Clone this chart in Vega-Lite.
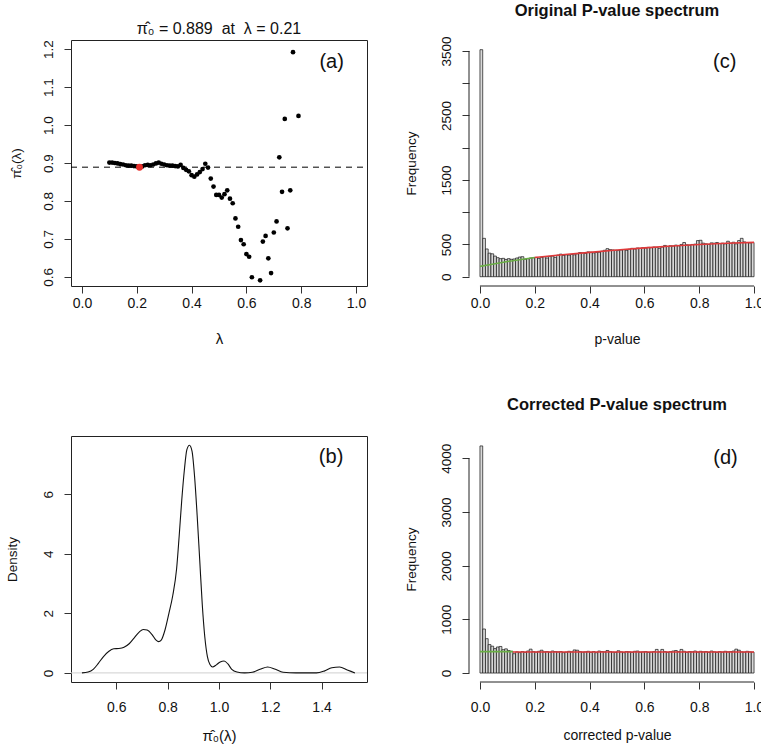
{
  "$schema": "https://vega.github.io/schema/vega-lite/v6.json",
  "padding": {"left": 4, "top": 3, "right": 0, "bottom": 0},
  "columns": 2,
  "spacing": {"row": 150, "column": 102},
  "bounds": "flush",
  "datasets": {
    "pi0": [
      {"lambda":0.10,"pi0":0.901},{"lambda":0.11,"pi0":0.901},{"lambda":0.12,"pi0":0.900},{"lambda":0.13,"pi0":0.899},{"lambda":0.14,"pi0":0.897},
      {"lambda":0.15,"pi0":0.896},{"lambda":0.16,"pi0":0.894},{"lambda":0.17,"pi0":0.893},{"lambda":0.18,"pi0":0.893},{"lambda":0.19,"pi0":0.892},
      {"lambda":0.20,"pi0":0.891},{"lambda":0.21,"pi0":0.889},{"lambda":0.22,"pi0":0.891},{"lambda":0.23,"pi0":0.894},{"lambda":0.24,"pi0":0.895},
      {"lambda":0.25,"pi0":0.894},{"lambda":0.26,"pi0":0.896},{"lambda":0.27,"pi0":0.899},{"lambda":0.28,"pi0":0.901},{"lambda":0.29,"pi0":0.898},
      {"lambda":0.30,"pi0":0.896},{"lambda":0.31,"pi0":0.894},{"lambda":0.32,"pi0":0.893},{"lambda":0.33,"pi0":0.893},{"lambda":0.34,"pi0":0.892},
      {"lambda":0.35,"pi0":0.891},{"lambda":0.36,"pi0":0.895},{"lambda":0.37,"pi0":0.887},{"lambda":0.38,"pi0":0.882},{"lambda":0.39,"pi0":0.878},
      {"lambda":0.40,"pi0":0.868},{"lambda":0.41,"pi0":0.864},{"lambda":0.42,"pi0":0.870},{"lambda":0.43,"pi0":0.876},{"lambda":0.44,"pi0":0.884},
      {"lambda":0.45,"pi0":0.898},{"lambda":0.46,"pi0":0.888},{"lambda":0.47,"pi0":0.859},{"lambda":0.48,"pi0":0.838},{"lambda":0.49,"pi0":0.816},
      {"lambda":0.50,"pi0":0.816},{"lambda":0.51,"pi0":0.809},{"lambda":0.52,"pi0":0.818},{"lambda":0.53,"pi0":0.828},{"lambda":0.54,"pi0":0.806},
      {"lambda":0.55,"pi0":0.794},{"lambda":0.56,"pi0":0.754},{"lambda":0.57,"pi0":0.732},{"lambda":0.58,"pi0":0.697},{"lambda":0.59,"pi0":0.686},
      {"lambda":0.60,"pi0":0.660},{"lambda":0.61,"pi0":0.653},{"lambda":0.62,"pi0":0.599},{"lambda":0.65,"pi0":0.591},{"lambda":0.66,"pi0":0.693},
      {"lambda":0.67,"pi0":0.708},{"lambda":0.68,"pi0":0.649},{"lambda":0.69,"pi0":0.610},{"lambda":0.70,"pi0":0.717},{"lambda":0.71,"pi0":0.746},
      {"lambda":0.72,"pi0":0.915},{"lambda":0.73,"pi0":0.824},{"lambda":0.74,"pi0":1.016},{"lambda":0.75,"pi0":0.728},{"lambda":0.76,"pi0":0.828},
      {"lambda":0.77,"pi0":1.192},{"lambda":0.79,"pi0":1.024}
    ],
    "dens": [
      {"x":0.466,"d":0},{"x":0.49,"d":0.03},{"x":0.51,"d":0.12},{"x":0.53,"d":0.32},{"x":0.55,"d":0.55},{"x":0.57,"d":0.72},
      {"x":0.59,"d":0.81},{"x":0.61,"d":0.82},{"x":0.63,"d":0.86},{"x":0.65,"d":0.98},{"x":0.67,"d":1.18},{"x":0.69,"d":1.38},
      {"x":0.705,"d":1.46},{"x":0.72,"d":1.44},{"x":0.74,"d":1.28},{"x":0.755,"d":1.1},{"x":0.765,"d":1.05},{"x":0.775,"d":1.1},
      {"x":0.79,"d":1.45},{"x":0.805,"d":2.0},{"x":0.82,"d":2.6},{"x":0.835,"d":3.5},{"x":0.845,"d":4.6},{"x":0.855,"d":5.8},
      {"x":0.865,"d":6.8},{"x":0.875,"d":7.5},{"x":0.885,"d":7.65},{"x":0.895,"d":7.45},{"x":0.905,"d":6.6},{"x":0.915,"d":5.3},
      {"x":0.925,"d":3.8},{"x":0.935,"d":2.3},{"x":0.945,"d":1.2},{"x":0.955,"d":0.55},{"x":0.965,"d":0.28},{"x":0.975,"d":0.2},
      {"x":0.99,"d":0.27},{"x":1.005,"d":0.37},{"x":1.02,"d":0.4},{"x":1.035,"d":0.3},{"x":1.05,"d":0.12},{"x":1.07,"d":0.03},
      {"x":1.1,"d":0.0},{"x":1.13,"d":0.02},{"x":1.16,"d":0.12},{"x":1.19,"d":0.2},{"x":1.22,"d":0.12},{"x":1.25,"d":0.02},
      {"x":1.3,"d":0.0},{"x":1.38,"d":0.0},{"x":1.41,"d":0.06},{"x":1.44,"d":0.17},{"x":1.47,"d":0.2},{"x":1.5,"d":0.1},{"x":1.53,"d":0.0}
    ],
    "hist_orig": [
      {"lo":0.00,"hi":0.01,"count":3520},{"lo":0.01,"hi":0.02,"count":595},{"lo":0.02,"hi":0.03,"count":430},{"lo":0.03,"hi":0.04,"count":365},{"lo":0.04,"hi":0.05,"count":355},
      {"lo":0.05,"hi":0.06,"count":320},{"lo":0.06,"hi":0.07,"count":295},{"lo":0.07,"hi":0.08,"count":280},{"lo":0.08,"hi":0.09,"count":285},{"lo":0.09,"hi":0.10,"count":268},
      {"lo":0.10,"hi":0.11,"count":280},{"lo":0.11,"hi":0.12,"count":270},{"lo":0.12,"hi":0.13,"count":275},{"lo":0.13,"hi":0.14,"count":290},{"lo":0.14,"hi":0.15,"count":305},
      {"lo":0.15,"hi":0.16,"count":310},{"lo":0.16,"hi":0.17,"count":270},{"lo":0.17,"hi":0.18,"count":280},{"lo":0.18,"hi":0.19,"count":290},{"lo":0.19,"hi":0.20,"count":295},
      {"lo":0.20,"hi":0.21,"count":300},{"lo":0.21,"hi":0.22,"count":285},{"lo":0.22,"hi":0.23,"count":300},{"lo":0.23,"hi":0.24,"count":310},{"lo":0.24,"hi":0.25,"count":290},
      {"lo":0.25,"hi":0.26,"count":315},{"lo":0.26,"hi":0.27,"count":320},{"lo":0.27,"hi":0.28,"count":300},{"lo":0.28,"hi":0.29,"count":335},{"lo":0.29,"hi":0.30,"count":350},
      {"lo":0.30,"hi":0.31,"count":330},{"lo":0.31,"hi":0.32,"count":340},{"lo":0.32,"hi":0.33,"count":335},{"lo":0.33,"hi":0.34,"count":345},{"lo":0.34,"hi":0.35,"count":340},
      {"lo":0.35,"hi":0.36,"count":355},{"lo":0.36,"hi":0.37,"count":375},{"lo":0.37,"hi":0.38,"count":370},{"lo":0.38,"hi":0.39,"count":360},{"lo":0.39,"hi":0.40,"count":385},
      {"lo":0.40,"hi":0.41,"count":380},{"lo":0.41,"hi":0.42,"count":370},{"lo":0.42,"hi":0.43,"count":375},{"lo":0.43,"hi":0.44,"count":380},{"lo":0.44,"hi":0.45,"count":395},
      {"lo":0.45,"hi":0.46,"count":410},{"lo":0.46,"hi":0.47,"count":435},{"lo":0.47,"hi":0.48,"count":420},{"lo":0.48,"hi":0.49,"count":415},{"lo":0.49,"hi":0.50,"count":410},
      {"lo":0.50,"hi":0.51,"count":405},{"lo":0.51,"hi":0.52,"count":415},{"lo":0.52,"hi":0.53,"count":420},{"lo":0.53,"hi":0.54,"count":410},{"lo":0.54,"hi":0.55,"count":425},
      {"lo":0.55,"hi":0.56,"count":440},{"lo":0.56,"hi":0.57,"count":430},{"lo":0.57,"hi":0.58,"count":445},{"lo":0.58,"hi":0.59,"count":440},{"lo":0.59,"hi":0.60,"count":450},
      {"lo":0.60,"hi":0.61,"count":445},{"lo":0.61,"hi":0.62,"count":455},{"lo":0.62,"hi":0.63,"count":450},{"lo":0.63,"hi":0.64,"count":460},{"lo":0.64,"hi":0.65,"count":455},
      {"lo":0.65,"hi":0.66,"count":440},{"lo":0.66,"hi":0.67,"count":460},{"lo":0.67,"hi":0.68,"count":485},{"lo":0.68,"hi":0.69,"count":470},{"lo":0.69,"hi":0.70,"count":480},
      {"lo":0.70,"hi":0.71,"count":475},{"lo":0.71,"hi":0.72,"count":490},{"lo":0.72,"hi":0.73,"count":480},{"lo":0.73,"hi":0.74,"count":500},{"lo":0.74,"hi":0.75,"count":530},
      {"lo":0.75,"hi":0.76,"count":495},{"lo":0.76,"hi":0.77,"count":490},{"lo":0.77,"hi":0.78,"count":500},{"lo":0.78,"hi":0.79,"count":505},{"lo":0.79,"hi":0.80,"count":560},
      {"lo":0.80,"hi":0.81,"count":565},{"lo":0.81,"hi":0.82,"count":520},{"lo":0.82,"hi":0.83,"count":510},{"lo":0.83,"hi":0.84,"count":500},{"lo":0.84,"hi":0.85,"count":525},
      {"lo":0.85,"hi":0.86,"count":520},{"lo":0.86,"hi":0.87,"count":530},{"lo":0.87,"hi":0.88,"count":515},{"lo":0.88,"hi":0.89,"count":520},{"lo":0.89,"hi":0.90,"count":510},
      {"lo":0.90,"hi":0.91,"count":550},{"lo":0.91,"hi":0.92,"count":520},{"lo":0.92,"hi":0.93,"count":535},{"lo":0.93,"hi":0.94,"count":510},{"lo":0.94,"hi":0.95,"count":560},
      {"lo":0.95,"hi":0.96,"count":595},{"lo":0.96,"hi":0.97,"count":540},{"lo":0.97,"hi":0.98,"count":530},{"lo":0.98,"hi":0.99,"count":525},{"lo":0.99,"hi":1.00,"count":530}
    ],
    "hist_corr": [
      {"lo":0.00,"hi":0.01,"count":4230},{"lo":0.01,"hi":0.02,"count":820},{"lo":0.02,"hi":0.03,"count":640},{"lo":0.03,"hi":0.04,"count":530},{"lo":0.04,"hi":0.05,"count":500},
      {"lo":0.05,"hi":0.06,"count":455},{"lo":0.06,"hi":0.07,"count":485},{"lo":0.07,"hi":0.08,"count":495},{"lo":0.08,"hi":0.09,"count":435},{"lo":0.09,"hi":0.10,"count":450},
      {"lo":0.10,"hi":0.11,"count":420},{"lo":0.11,"hi":0.12,"count":405},{"lo":0.12,"hi":0.13,"count":360},{"lo":0.13,"hi":0.14,"count":395},{"lo":0.14,"hi":0.15,"count":380},
      {"lo":0.15,"hi":0.16,"count":400},{"lo":0.16,"hi":0.17,"count":385},{"lo":0.17,"hi":0.18,"count":410},{"lo":0.18,"hi":0.19,"count":445},{"lo":0.19,"hi":0.20,"count":400},
      {"lo":0.20,"hi":0.21,"count":390},{"lo":0.21,"hi":0.22,"count":405},{"lo":0.22,"hi":0.23,"count":425},{"lo":0.23,"hi":0.24,"count":395},{"lo":0.24,"hi":0.25,"count":400},
      {"lo":0.25,"hi":0.26,"count":390},{"lo":0.26,"hi":0.27,"count":410},{"lo":0.27,"hi":0.28,"count":400},{"lo":0.28,"hi":0.29,"count":395},{"lo":0.29,"hi":0.30,"count":400},
      {"lo":0.30,"hi":0.31,"count":380},{"lo":0.31,"hi":0.32,"count":390},{"lo":0.32,"hi":0.33,"count":405},{"lo":0.33,"hi":0.34,"count":395},{"lo":0.34,"hi":0.35,"count":430},
      {"lo":0.35,"hi":0.36,"count":425},{"lo":0.36,"hi":0.37,"count":400},{"lo":0.37,"hi":0.38,"count":390},{"lo":0.38,"hi":0.39,"count":395},{"lo":0.39,"hi":0.40,"count":405},
      {"lo":0.40,"hi":0.41,"count":385},{"lo":0.41,"hi":0.42,"count":400},{"lo":0.42,"hi":0.43,"count":380},{"lo":0.43,"hi":0.44,"count":410},{"lo":0.44,"hi":0.45,"count":400},
      {"lo":0.45,"hi":0.46,"count":395},{"lo":0.46,"hi":0.47,"count":420},{"lo":0.47,"hi":0.48,"count":400},{"lo":0.48,"hi":0.49,"count":390},{"lo":0.49,"hi":0.50,"count":385},
      {"lo":0.50,"hi":0.51,"count":415},{"lo":0.51,"hi":0.52,"count":395},{"lo":0.52,"hi":0.53,"count":380},{"lo":0.53,"hi":0.54,"count":400},{"lo":0.54,"hi":0.55,"count":395},
      {"lo":0.55,"hi":0.56,"count":385},{"lo":0.56,"hi":0.57,"count":405},{"lo":0.57,"hi":0.58,"count":410},{"lo":0.58,"hi":0.59,"count":390},{"lo":0.59,"hi":0.60,"count":395},
      {"lo":0.60,"hi":0.61,"count":400},{"lo":0.61,"hi":0.62,"count":385},{"lo":0.62,"hi":0.63,"count":390},{"lo":0.63,"hi":0.64,"count":400},{"lo":0.64,"hi":0.65,"count":440},
      {"lo":0.65,"hi":0.66,"count":395},{"lo":0.66,"hi":0.67,"count":440},{"lo":0.67,"hi":0.68,"count":400},{"lo":0.68,"hi":0.69,"count":385},{"lo":0.69,"hi":0.70,"count":400},
      {"lo":0.70,"hi":0.71,"count":410},{"lo":0.71,"hi":0.72,"count":420},{"lo":0.72,"hi":0.73,"count":400},{"lo":0.73,"hi":0.74,"count":440},{"lo":0.74,"hi":0.75,"count":405},
      {"lo":0.75,"hi":0.76,"count":385},{"lo":0.76,"hi":0.77,"count":400},{"lo":0.77,"hi":0.78,"count":395},{"lo":0.78,"hi":0.79,"count":410},{"lo":0.79,"hi":0.80,"count":390},
      {"lo":0.80,"hi":0.81,"count":405},{"lo":0.81,"hi":0.82,"count":395},{"lo":0.82,"hi":0.83,"count":400},{"lo":0.83,"hi":0.84,"count":385},{"lo":0.84,"hi":0.85,"count":410},
      {"lo":0.85,"hi":0.86,"count":395},{"lo":0.86,"hi":0.87,"count":385},{"lo":0.87,"hi":0.88,"count":400},{"lo":0.88,"hi":0.89,"count":390},{"lo":0.89,"hi":0.90,"count":405},
      {"lo":0.90,"hi":0.91,"count":395},{"lo":0.91,"hi":0.92,"count":400},{"lo":0.92,"hi":0.93,"count":410},{"lo":0.93,"hi":0.94,"count":445},{"lo":0.94,"hi":0.95,"count":425},
      {"lo":0.95,"hi":0.96,"count":395},{"lo":0.96,"hi":0.97,"count":390},{"lo":0.97,"hi":0.98,"count":405},{"lo":0.98,"hi":0.99,"count":395},{"lo":0.99,"hi":1.00,"count":390}
    ],
    "fit_orig": [
      {"lo":0.0,"count":160,"part":"low"},{"lo":0.05,"count":198,"part":"low"},{"lo":0.1,"count":235,"part":"low"},{"lo":0.15,"count":268,"part":"low"},{"lo":0.2,"count":298,"part":"low"},
      {"lo":0.2,"count":298,"part":"high"},{"lo":0.3,"count":340,"part":"high"},{"lo":0.4,"count":378,"part":"high"},{"lo":0.5,"count":415,"part":"high"},{"lo":0.6,"count":447,"part":"high"},
      {"lo":0.7,"count":476,"part":"high"},{"lo":0.8,"count":500,"part":"high"},{"lo":0.9,"count":518,"part":"high"},{"lo":1.0,"count":532,"part":"high"}
    ],
    "fit_corr": [
      {"lo":0.0,"count":398,"part":"low"},{"lo":0.12,"count":398,"part":"low"},
      {"lo":0.12,"count":392,"part":"high"},{"lo":1.0,"count":392,"part":"high"}
    ]
  },
  "concat": [
    {
      "width": 296, "height": 246,
      "view": {"stroke": "#222", "strokeWidth": 1},
      "title": {"text": "π̂₀ = 0.889\u00a0\u00a0at\u00a0\u00a0λ = 0.21", "fontSize": 16, "fontWeight": "normal", "offset": -10, "baseline": "alphabetic"},
      "encoding": {
        "x": {"field": "lambda", "type": "quantitative", "title": "λ",
              "scale": {"domain": [-0.04, 1.04], "nice": false, "zero": false},
              "axis": {"values": [0, 0.2, 0.4, 0.6, 0.8, 1], "format": ".1f", "labelPadding": 3, "titlePadding": 21, "titleFontSize": 15}},
        "y": {"field": "pi0", "type": "quantitative", "title": "π̂₀(λ)",
              "scale": {"domain": [0.576, 1.224], "nice": false, "zero": false},
              "axis": {"values": [0.6, 0.7, 0.8, 0.9, 1.0, 1.1, 1.2], "format": ".1f", "labelAngle": 270, "labelAlign": "center", "labelBaseline": "bottom", "labelPadding": 9, "labelFontSize": 13.5, "titlePadding": 18, "titleFontSize": 13.5}}
      },
      "layer": [
        {
          "data": {"values": [{"pi0": 0.889}]},
          "mark": {"type": "rule", "strokeDash": [6, 5], "color": "black", "strokeWidth": 1},
          "encoding": {"x": {"value": 0}, "x2": {"value": 296}}
        },
        {
          "data": {"name": "pi0"},
          "mark": {"type": "point", "filled": true, "color": "black", "size": 22, "opacity": 1}
        },
        {
          "data": {"name": "pi0"},
          "transform": [{"filter": "datum.lambda == 0.21"}],
          "mark": {"type": "point", "filled": true, "color": "#e8302c", "size": 48, "opacity": 1}
        },
        {
          "data": {"values": [{"label": "(a)", "lambda": 0.911, "pi0": 1.166}]},
          "mark": {"type": "text", "fontSize": 20, "align": "center", "baseline": "middle", "color": "#111"},
          "encoding": {"text": {"field": "label"}}
        }
      ]
    },
    {
      "width": 296, "height": 246,
      "title": {"text": "Original P-value spectrum", "fontSize": 16.5, "fontWeight": "bold", "offset": 3, "baseline": "alphabetic"},
      "encoding": {
        "x": {"field": "lo", "type": "quantitative", "title": "p-value",
              "scale": {"domain": [-0.04, 1.04], "nice": false, "zero": false},
              "axis": {"values": [0, 0.2, 0.4, 0.6, 0.8, 1], "format": ".1f", "labelPadding": 3, "titlePadding": 22}},
        "y": {"field": "count", "type": "quantitative", "title": "Frequency",
              "scale": {"domain": [-144, 3670], "nice": false, "zero": false},
              "axis": {"values": [0, 500, 1000, 1500, 2000, 2500, 3000, 3500], "format": "d", "labelExpr": "(datum.value == 1000 || datum.value == 2000 || datum.value == 3000) ? '' : format(datum.value, 'd')", "labelAngle": 270, "labelAlign": "center", "labelBaseline": "bottom", "labelPadding": 9, "labelFontSize": 13.5, "titlePadding": 21, "titleFontSize": 13.5}}
      },
      "layer": [
        {
          "data": {"name": "hist_orig"},
          "mark": {"type": "bar", "fill": "#d9d9d9", "stroke": "#111", "strokeWidth": 0.7},
          "encoding": {"x2": {"field": "hi"}, "y2": {"datum": 0}}
        },
        {
          "data": {"name": "fit_orig"},
          "mark": {"type": "line", "strokeWidth": 1.6},
          "encoding": {
            "color": {"field": "part", "type": "nominal", "scale": {"domain": ["low", "high"], "range": ["#6aae45", "#e0393a"]}, "legend": null}
          }
        },
        {
          "data": {"values": [{"lo": 0, "hi": 1, "count": -144}]},
          "mark": {"type": "rule", "color": "#222", "strokeWidth": 1},
          "encoding": {"x2": {"field": "hi"}}
        },
        {
          "data": {"values": [{"lo": -0.04, "count": 0, "top": 3500}]},
          "mark": {"type": "rule", "color": "#222", "strokeWidth": 1},
          "encoding": {"y2": {"field": "top"}}
        },
        {
          "data": {"values": [{"label": "(c)", "lo": 0.893, "count": 3333}]},
          "mark": {"type": "text", "fontSize": 20, "align": "center", "baseline": "middle", "color": "#111"},
          "encoding": {"text": {"field": "label"}}
        }
      ]
    },
    {
      "width": 296, "height": 246,
      "view": {"stroke": "#222", "strokeWidth": 1},
      "encoding": {
        "x": {"field": "x", "type": "quantitative", "title": "π̂₀(λ)",
              "scale": {"domain": [0.4234, 1.577], "nice": false, "zero": false},
              "axis": {"values": [0.6, 0.8, 1.0, 1.2, 1.4], "format": ".1f", "labelPadding": 11, "titlePadding": 14, "titleFontSize": 15}},
        "y": {"field": "d", "type": "quantitative", "title": "Density",
              "scale": {"domain": [-0.306, 7.96], "nice": false, "zero": false},
              "axis": {"values": [0, 2, 4, 6], "format": "d", "labelAngle": 270, "labelAlign": "center", "labelBaseline": "bottom", "labelPadding": 9, "labelFontSize": 13.5, "titlePadding": 22, "titleFontSize": 13.5}}
      },
      "layer": [
        {
          "data": {"values": [{"d": 0}]},
          "mark": {"type": "rule", "color": "#cfcfcf", "strokeWidth": 1},
          "encoding": {"x": {"value": 0}, "x2": {"value": 296}}
        },
        {
          "data": {"name": "dens"},
          "mark": {"type": "line", "color": "#111", "strokeWidth": 1.1, "interpolate": "monotone"}
        },
        {
          "data": {"values": [{"label": "(b)", "x": 1.437, "d": 7.24}]},
          "mark": {"type": "text", "fontSize": 20, "align": "center", "baseline": "middle", "color": "#111"},
          "encoding": {"text": {"field": "label"}}
        }
      ]
    },
    {
      "width": 296, "height": 246,
      "title": {"text": "Corrected P-value spectrum", "fontSize": 16.5, "fontWeight": "bold", "offset": 10, "baseline": "alphabetic"},
      "encoding": {
        "x": {"field": "lo", "type": "quantitative", "title": "corrected p-value",
              "scale": {"domain": [-0.04, 1.04], "nice": false, "zero": false},
              "axis": {"values": [0, 0.2, 0.4, 0.6, 0.8, 1], "format": ".1f", "labelPadding": 11, "titlePadding": 14}},
        "y": {"field": "count", "type": "quantitative", "title": "Frequency",
              "scale": {"domain": [-167, 4415], "nice": false, "zero": false},
              "axis": {"values": [0, 1000, 2000, 3000, 4000], "format": "d", "labelAngle": 270, "labelAlign": "center", "labelBaseline": "bottom", "labelPadding": 9, "labelFontSize": 13.5, "titlePadding": 21, "titleFontSize": 13.5}}
      },
      "layer": [
        {
          "data": {"name": "hist_corr"},
          "mark": {"type": "bar", "fill": "#d9d9d9", "stroke": "#111", "strokeWidth": 0.7},
          "encoding": {"x2": {"field": "hi"}, "y2": {"datum": 0}}
        },
        {
          "data": {"name": "fit_corr"},
          "mark": {"type": "line", "strokeWidth": 1.6},
          "encoding": {
            "color": {"field": "part", "type": "nominal", "scale": {"domain": ["low", "high"], "range": ["#6aae45", "#d9474a"]}, "legend": null}
          }
        },
        {
          "data": {"values": [{"lo": 0, "hi": 1, "count": -167}]},
          "mark": {"type": "rule", "color": "#222", "strokeWidth": 1},
          "encoding": {"x2": {"field": "hi"}}
        },
        {
          "data": {"values": [{"lo": -0.04, "count": 0, "top": 4000}]},
          "mark": {"type": "rule", "color": "#222", "strokeWidth": 1},
          "encoding": {"y2": {"field": "top"}}
        },
        {
          "data": {"values": [{"label": "(d)", "lo": 0.896, "count": 4000}]},
          "mark": {"type": "text", "fontSize": 20, "align": "center", "baseline": "middle", "color": "#111"},
          "encoding": {"text": {"field": "label"}}
        }
      ]
    }
  ],
  "config": {
    "font": "Liberation Sans",
    "view": {"stroke": null},
    "title": {"font": "Liberation Sans", "color": "#111", "anchor": "middle"},
    "axis": {
      "domain": false, "grid": false, "tickSize": 7, "tickColor": "#333", "tickWidth": 1,
      "labelColor": "#111", "titleColor": "#111", "titleFontWeight": "normal",
      "labelFontSize": 14, "titleFontSize": 14, "labelFont": "Liberation Sans", "titleFont": "Liberation Sans",
      "labelFlush": false, "labelOverlap": false
    }
  }
}
